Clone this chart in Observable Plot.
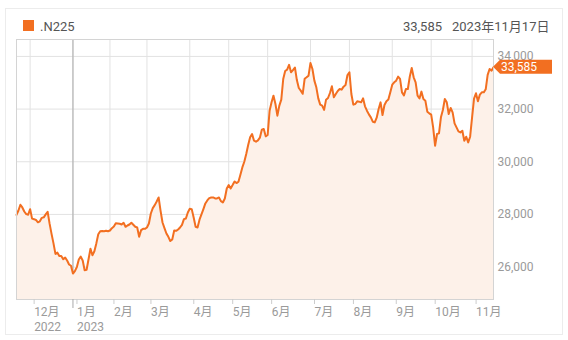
<!DOCTYPE html>
<html><head><meta charset="utf-8">
<script src="https://cdn.jsdelivr.net/npm/d3@7"></script>
<script src="https://cdn.jsdelivr.net/npm/@observablehq/plot@0.6"></script>
<style>
body{margin:0;background:#fff;font-family:Roboto,"Noto Sans CJK JP",sans-serif;}
#wrap{position:relative;width:568px;height:340px;overflow:hidden;}
#card{position:absolute;left:5px;top:8px;width:558px;height:327px;border:1px solid #ececec;box-sizing:border-box;}
.hdr{position:absolute;font-size:13px;color:#555;white-space:nowrap;line-height:13px;}
#sw{position:absolute;left:23px;top:20px;width:11px;height:11px;background:#f26f21;}
#chart{position:absolute;left:0;top:0;}
</style></head>
<body><div id="wrap"><div id="card"></div><div id="sw"></div>
<div class="hdr" id="name" style="left:40px;top:20px"></div>
<div class="hdr" id="lastv" style="right:126px;top:20px"></div>
<div class="hdr" id="date" style="left:452px;top:20px"></div>
<div id="chart"></div></div>
<script>
const seriesName = ".N225";
const lastDate = "2023年11月17日";
// Nikkei 225 daily closes, one per trading day (index = trading day)
const values = [
27986,28150,28366,28265,28112,28011,27990,28200,27840,27820,
27790,27700,27740,27870,27890,28000,28100,27650,27260,26900,
26500,26550,26420,26420,26300,26360,26250,26100,26050,25756,
25850,26000,26290,26400,26250,25880,25900,26300,26700,26450,
26600,26900,27250,27360,27370,27360,27380,27360,27390,27479,
27542,27669,27656,27644,27618,27682,27530,27580,27618,27682,
27606,27530,27505,27149,27403,27454,27454,27505,27656,28036,
28239,28353,28492,28644,28138,27694,27479,27276,27149,26990,
27050,27390,27378,27428,27505,27606,27821,27846,28074,28214,
28201,27884,27530,27505,27800,28000,28202,28417,28531,28620,
28645,28645,28607,28607,28645,28506,28455,28607,28987,29114,
28987,29114,29253,29190,29241,29507,29786,30001,30292,30634,
30926,31053,30799,30761,30812,30913,31217,31243,30964,31015,
31940,32256,32510,32193,31750,32130,32358,33143,33447,33498,
33680,33400,33480,33580,33100,32800,32700,32580,33150,33206,
33270,33751,33523,33080,32826,32408,32168,32130,31970,32358,
32421,32611,32864,32446,32573,32687,32763,32738,32852,32915,
33295,33396,32573,32168,32193,32294,32282,32256,32408,32104,
31940,31800,31686,31521,31496,31673,32003,32256,31775,32155,
32294,32360,32636,32928,33016,33080,33232,33143,32636,32522,
32763,32763,33232,33561,33206,33016,32510,32408,32662,32383,
32320,31901,31838,31787,31306,30609,31053,31078,31686,31965,
32383,32256,31813,32041,31876,31458,31306,31154,31116,31179,
30799,30951,30736,30951,31686,32400,32600,32300,32550,32636,
32636,32750,33300,33520,33460,33585
];
// trading-day index of the first session of each month
const monthIdx = [7,29,48,67,89,109,129,151,171,193,213,234];
const monthLabels = ["12月","1月","2月","3月","4月","5月","6月","7月","8月","9月","10月","11月"];
const yearLabels = {7:"2022", 29:"2023"};
const yearIdx = 29;
const yTicks = [26000,28000,30000,32000,34000];
const yDomain = [24770, 34642];

const fmt = d3.format(",");
const last = values[values.length-1];
document.getElementById("name").textContent = seriesName;
document.getElementById("lastv").textContent = fmt(last);
document.getElementById("date").textContent = lastDate;

const data = values.map((v,i)=>({i, v}));
const orange = "#f26f21";
const chart = Plot.plot({
  width:568, height:340, marginLeft:16, marginRight:75, marginTop:39, marginBottom:41,
  style:{fontFamily:"Roboto, 'Noto Sans CJK JP', sans-serif", fontSize:"12px", background:"transparent", overflow:"visible"},
  x:{domain:[0, values.length-1], axis:null},
  y:{domain:yDomain, axis:null},
  marks:[
    Plot.gridY(yTicks, {stroke:"#e2e2e2", strokeOpacity:1}),
    Plot.gridX(monthIdx, {stroke:"#e2e2e2", strokeOpacity:1}),
    Plot.ruleX([yearIdx], {stroke:"#aaaaaa"}),
    Plot.areaY(data, {x:"i", y1:yDomain[0], y2:"v", fill:"#fdf1e9"}),
    Plot.lineY(data, {x:"i", y:"v", stroke:orange, strokeWidth:2}),
    Plot.frame({stroke:"#d4d4d4"}),
    Plot.axisX(monthIdx, {label:null, tickSize:5, tickPadding:1, stroke:"#cccccc", fill:"#9a9a9a", textAnchor:"start", dx:4, lineHeight:1.25, fontSize:12,
      tickFormat: d => monthLabels[monthIdx.indexOf(d)] + (yearLabels[d] ? "\n" + yearLabels[d] : "")}),
    Plot.axisX([yearIdx], {label:null, tickSize:9, stroke:"#aaaaaa", tickFormat: () => ""}),
    Plot.axisY(yTicks, {label:null, anchor:"right", tickSize:0, tickPadding:4, fill:"#9a9a9a", fontSize:12, tickFormat: fmt})
  ]
});
document.getElementById("chart").appendChild(chart);

// price tag at the last value
const xs = chart.scale("x"), ys = chart.scale("y");
const tx = xs.apply(values.length-1), ty = ys.apply(last);
const svg = d3.select(chart);
svg.append("path")
  .attr("d", `M${tx},${ty} L${tx+7},${ty-7} H552 V${ty+7} H${tx+7} Z`)
  .attr("fill", orange);
svg.append("text").attr("x", tx+8).attr("y", ty).attr("dy","0.35em")
  .attr("text-anchor","start")
  .attr("fill","#fff").attr("font-size",12).text(fmt(last));
</script>
</body></html>
